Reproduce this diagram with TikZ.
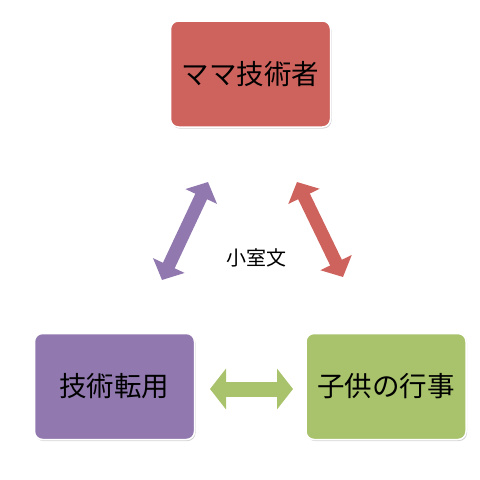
\documentclass[tikz,border=0pt]{standalone}
\usepackage{fontspec}
\setmainfont{Noto Sans CJK JP}
\usetikzlibrary{arrows.meta,shadows}
\definecolor{rouge}{RGB}{206,98,93}
\definecolor{violet}{RGB}{145,121,176}
\definecolor{vert}{RGB}{168,195,108}

\begin{document}
\begin{tikzpicture}[x=1pt,y=-1pt]
\tikzset{boite/.style={draw=white, line width=1.5pt, rounded corners=8pt,
  minimum width=160pt, minimum height=106pt, inner sep=0pt,
  font=\fontsize{27.5pt}{32pt}\selectfont,
  drop shadow={shadow xshift=1pt, shadow yshift=-1.5pt, opacity=0.35}},
  fleche/.style={line width=13pt, {Triangle[width=34pt,length=16pt]}-{Triangle[width=34pt,length=16pt]}}}
\useasboundingbox (0,0) rectangle (480,480);
\node[boite, fill=rouge] (mama) at (250.5,74) {ママ技術者};
\node[boite, fill=violet] (tenyou) at (114.5,386.5) {技術転用};
\node[boite, fill=vert] (gyouji) at (386,386.5) {子供の行事};
\node[font=\fontsize{20pt}{24pt}\selectfont] (shitsu) at (256,258) {小室文};
\coordinate (V1) at (162,280);
\coordinate (V2) at (208,182);
\coordinate (R1) at (297,182);
\coordinate (R2) at (343,277);
\coordinate (G1) at (210,389);
\coordinate (G2) at (293,389);
\draw[fleche, violet] (V1) -- (V2);
\draw[fleche, rouge] (R1) -- (R2);
\draw[fleche, vert, line width=15pt, {Triangle[width=40pt,length=16pt]}-{Triangle[width=40pt,length=16pt]}] (G1) -- (G2);
\end{tikzpicture}
\end{document}
